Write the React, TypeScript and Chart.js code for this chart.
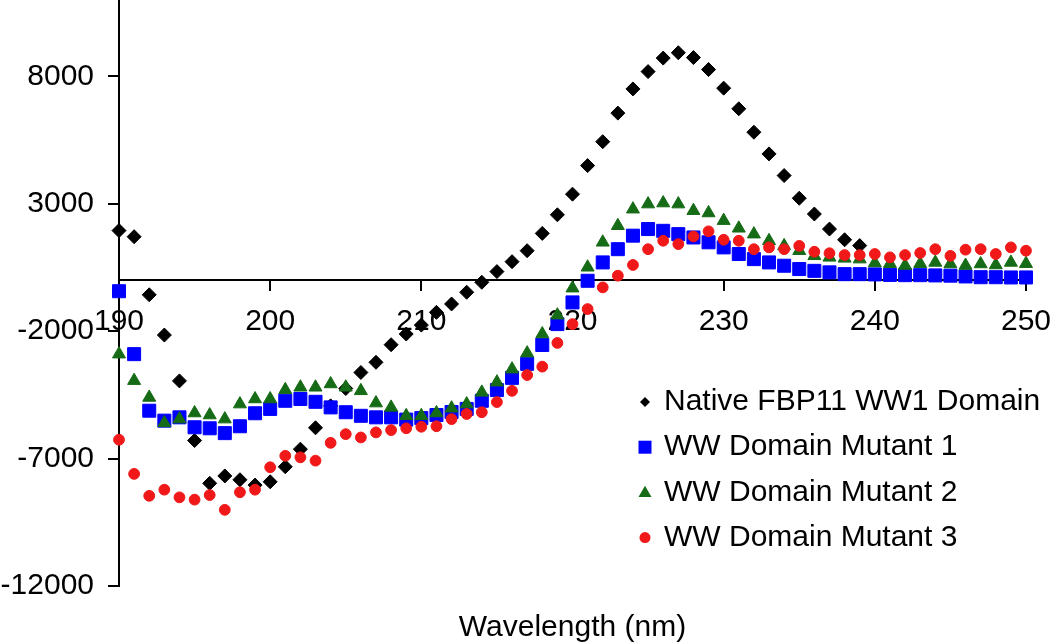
import React, { useEffect, useRef } from 'react';
import { Chart, registerables } from 'chart.js';

Chart.register(...registerables);

const wavelengths = [
  190, 191, 192, 193, 194, 195, 196, 197, 198, 199,
  200, 201, 202, 203, 204, 205, 206, 207, 208, 209,
  210, 211, 212, 213, 214, 215, 216, 217, 218, 219,
  220, 221, 222, 223, 224, 225, 226, 227, 228, 229,
  230, 231, 232, 233, 234, 235, 236, 237, 238, 239,
  240, 241, 242, 243, 244, 245, 246, 247, 248, 249, 250,
];

// Native series is not visible beyond 239 nm in the reference (hidden/absent)
const nativeFBP11 = [
  1950, 1710, -570, -2150, -3950, -6290, -7970, -7680, -7830, -8040,
  -7910, -7320, -6630, -5790, -4930, -4250, -3620, -3220, -2530, -2110,
  -1760, -1260, -930, -470, -80, 340, 730, 1160, 1840, 2570,
  3380, 4500, 5440, 6560, 7510, 8190, 8720, 8930, 8740, 8270,
  7540, 6730, 5810, 4960, 4110, 3220, 2600, 2010, 1590, 1360,
  null, null, null, null, null, null, null, null, null, null, null,
];

const mutant1 = [
  -430, -2900, -5120, -5510, -5380, -5770, -5810, -6000, -5730, -5220,
  -5050, -4730, -4660, -4770, -4990, -5180, -5320, -5380, -5380, -5470,
  -5410, -5290, -5170, -5050, -4730, -4310, -3830, -3280, -2540, -1720,
  -870, -20, 700, 1220, 1750, 2010, 1940, 1810, 1680, 1490,
  1290, 1030, 830, 700, 570, 440, 370, 310, 240, 240,
  230, 210, 200, 200, 190, 180, 150, 120, 120, 110, 110,
];

const mutant2 = [
  -2900, -3940, -4600, -5600, -5450, -5210, -5290, -5450, -4860, -4660,
  -4660, -4300, -4200, -4200, -4070, -4200, -4340, -4820, -4990, -5320,
  -5320, -5210, -5020, -4860, -4400, -4000, -3490, -2860, -2110, -1370,
  -310, 510, 1490, 2140, 2790, 2990, 3030, 2990, 2730, 2640,
  2340, 2040, 1810, 1550, 1350, 1160, 960, 900, 860, 830,
  680, 650, 580, 650, 700, 640, 580, 640, 600, 700, 650,
];

const mutant3 = [
  -6260, -7600, -8460, -8220, -8520, -8610, -8430, -9010, -8320, -8220,
  -7340, -6890, -6950, -7080, -6380, -6040, -6170, -5970, -5880, -5810,
  -5750, -5730, -5450, -5250, -5180, -4780, -4340, -3720, -3390, -2460,
  -1720, -1130, -280, 180, 600, 1220, 1550, 1420, 1720, 1920,
  1590, 1550, 1220, 1290, 1220, 1350, 1120, 1060, 990, 990,
  1030, 900, 990, 1070, 1220, 960, 1200, 1220, 1030, 1290, 1160,
];

const xTickValues = [190, 200, 210, 220, 230, 240, 250];
const yTickValues = [8000, 3000, -2000, -7000, -12000];

const seriesLabels = [
  'Native FBP11 WW1 Domain',
  'WW Domain Mutant 1',
  'WW Domain Mutant 2',
  'WW Domain Mutant 3',
];
const seriesColors = ['#000000', '#0000ff', '#166b16', '#f01818'];
const seriesStyles = ['rectRot', 'rect', 'triangle', 'circle'];
const seriesRadii = [7, 9.2, 7.5, 5.4];
const legendRadii = [5, 6.5, 7.5, 5.5];

const FONT = '"Liberation Sans", Arial, Helvetica, sans-serif';

function drawMarker(ctx: CanvasRenderingContext2D, style: string, x: number, y: number, r: number, color: string) {
  ctx.save();
  ctx.fillStyle = color;
  ctx.beginPath();
  if (style === 'rectRot') {
    ctx.moveTo(x - r, y);
    ctx.lineTo(x, y - r);
    ctx.lineTo(x + r, y);
    ctx.lineTo(x, y + r);
    ctx.closePath();
  } else if (style === 'rect') {
    ctx.rect(x - r, y - r, 2 * r, 2 * r);
  } else if (style === 'triangle') {
    const h = r * 1.5;
    const w = r * Math.sqrt(3);
    ctx.moveTo(x, y - h / 2 - 1);
    ctx.lineTo(x + w / 2, y + h / 2 - 1);
    ctx.lineTo(x - w / 2, y + h / 2 - 1);
    ctx.closePath();
  } else {
    ctx.arc(x, y, r, 0, Math.PI * 2);
  }
  ctx.fill();
  ctx.restore();
}

const insideLegend = {
  id: 'insideLegend',
  afterDraw(chart: any) {
    const ctx: CanvasRenderingContext2D = chart.ctx;
    ctx.save();
    ctx.font = `30px ${FONT}`;
    ctx.textBaseline = 'middle';
    ctx.textAlign = 'left';
    seriesLabels.forEach((label, i) => {
      const y = 402 + i * 45.2;
      drawMarker(ctx, seriesStyles[i], 645, y, legendRadii[i], seriesColors[i]);
      ctx.fillStyle = '#000';
      ctx.fillText(label, 664, y);
    });
    ctx.restore();
  },
};

const seriesValues = [nativeFBP11, mutant1, mutant2, mutant3];

export default function App() {
  const canvasRef = useRef<HTMLCanvasElement | null>(null);

  useEffect(() => {
    document.body.style.margin = '0';
    const canvas = canvasRef.current;
    if (!canvas) return;

    const datasets = seriesLabels.map((label, i) => ({
      label,
      data: wavelengths.map((x, j) => ({ x, y: seriesValues[i][j] })),
      pointStyle: seriesStyles[i],
      pointRadius: seriesRadii[i],
      pointBorderWidth: 1,
      backgroundColor: seriesColors[i],
      borderColor: seriesColors[i],
      showLine: false,
      clip: false,
      order: 4 - i,
      xAxisID: 'x',
      yAxisID: 'y',
    }));

    const tickFont = { family: FONT, size: 30 };

    const chart = new Chart(canvas, {
      type: 'scatter',
      data: { datasets } as any,
      plugins: [insideLegend],
      options: {
        animation: false,
        responsive: false,
        devicePixelRatio: 1,
        layout: { padding: 0, autoPadding: false },
        plugins: {
          legend: { display: false },
          tooltip: { enabled: false },
        },
        scales: {
          x: {
            type: 'linear',
            position: { y: 0 } as any,
            min: 190,
            max: 250,
            afterBuildTicks: (s: any) => {
              s.ticks = xTickValues.map((v) => ({ value: v }));
            },
            afterFit: (s: any) => {
              s.paddingLeft = 0;
              s.paddingRight = 24;
            },
            border: { display: true, color: '#000', width: 2 },
            grid: {
              display: true,
              drawOnChartArea: false,
              drawTicks: true,
              tickLength: 10,
              color: '#000',
              lineWidth: 2,
            },
            ticks: {
              font: tickFont,
              color: '#000',
              padding: 13,
              maxRotation: 0,
              autoSkip: false,
              callback: (v: any) => `${v}`,
            },
          },
          x2: {
            type: 'linear',
            position: 'bottom',
            min: 190,
            max: 250,
            grid: { display: false, drawTicks: false },
            border: { display: false },
            ticks: { display: false },
            title: {
              display: true,
              text: 'Wavelength (nm)',
              color: '#000',
              font: { family: FONT, size: 30 },
              padding: { top: 24, bottom: -2 },
            },
          },
          y: {
            type: 'linear',
            position: 'left',
            min: -12000,
            max: 11000,
            afterBuildTicks: (s: any) => {
              s.ticks = yTickValues.map((v) => ({ value: v }));
            },
            afterFit: (s: any) => {
              s.width = 119;
              s.paddingTop = 0;
              s.paddingBottom = 0;
            },
            border: { display: true, color: '#000', width: 2 },
            grid: {
              display: true,
              drawOnChartArea: false,
              drawTicks: true,
              tickLength: 11,
              color: '#000',
              lineWidth: 2,
            },
            ticks: {
              font: tickFont,
              color: '#000',
              padding: 14,
              callback: (v: any) => `${v}`,
            },
          },
        } as any,
      },
    });

    return () => {
      chart.destroy();
    };
  }, []);

  return (
    <div style={{ width: 1050, height: 644 }}>
      <canvas ref={canvasRef} width={1050} height={644} style={{ display: 'block' }} />
    </div>
  );
}
